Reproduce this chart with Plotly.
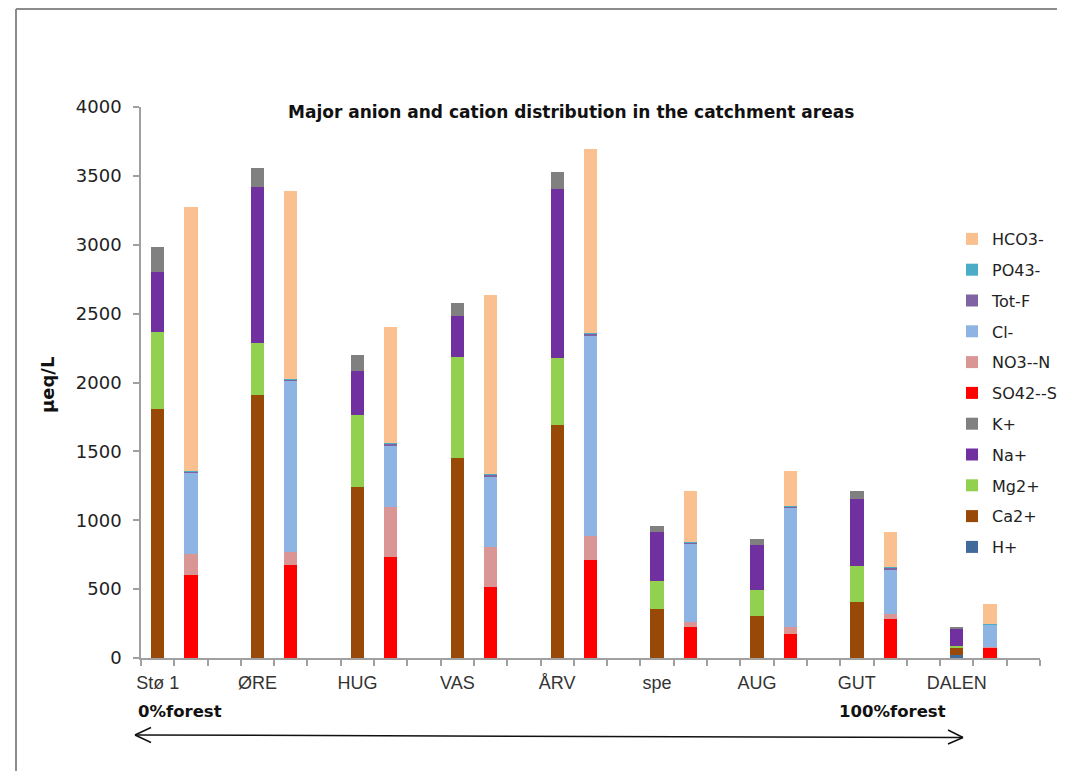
import plotly.graph_objects as go

sites = ["Stø 1", "ØRE", "HUG", "VAS", "ÅRV", "spe", "AUG", "GUT", "DALEN"]

# cations (µeq/L)
H = [0.5, 0.3, 0.4, 0.3, 0.3, 1, 1, 1, 22]
Ca = [1805, 1907, 1239, 1451, 1690, 356, 305, 409, 48]
Mg = [563, 377, 522, 731, 488, 203, 188, 256, 15]
Na = [436, 1135, 324, 302, 1227, 355, 325, 489, 128]
K = [176, 140, 114, 90, 123, 44, 43, 58, 12]
# anions (µeq/L)
SO4 = [603, 672, 731, 515, 713, 223, 172, 285, 73]
NO3 = [149, 100, 365, 291, 170, 38, 53, 32, 7]
Cl = [591, 1238, 450, 515, 1457, 571, 866, 329, 162]
TotF = [10, 15, 14, 9, 15, 5, 10, 12, 3]
PO4 = [2, 2, 2, 5, 3, 2, 2, 2, 1]
HCO3 = [1920, 1362, 842, 1302, 1338, 375, 251, 256, 144]

cation_x = [3 * i for i in range(len(sites))]
anion_x = [3 * i + 1 for i in range(len(sites))]

series = [
    ("H+", H, cation_x, "#40699C"),
    ("Ca2+", Ca, cation_x, "#984807"),
    ("Mg2+", Mg, cation_x, "#92D050"),
    ("Na+", Na, cation_x, "#7030A0"),
    ("K+", K, cation_x, "#808080"),
    ("SO42--S", SO4, anion_x, "#FF0000"),
    ("NO3--N", NO3, anion_x, "#D99694"),
    ("Cl-", Cl, anion_x, "#8EB4E3"),
    ("Tot-F", TotF, anion_x, "#8064A2"),
    ("PO43-", PO4, anion_x, "#4BACC6"),
    ("HCO3-", HCO3, anion_x, "#FAC090"),
]

fig = go.Figure()
n = len(series)
for i, (name, vals, xs, col) in enumerate(series):
    fig.add_trace(go.Bar(
        x=xs, y=vals, name=name, legendgroup=name, legendrank=n - i,
        width=0.4, marker=dict(color=col, line=dict(width=0)),
    ))

# page has an 8px body margin; figure sized to fill the rest of the window
OFF = 8
W, Hh = 1057, 763
L, R, T, B = 133, 25, 99, 113
PW = W - L - R
PH = Hh - T - B


def px(sx):
    return (sx - OFF - L) / PW


def py(sy):
    return (Hh - B - (sy - OFF)) / PH


fig.update_layout(
    width=W, height=Hh,
    margin=dict(l=L, r=R, t=T, b=B, autoexpand=False),
    barmode="stack",
    plot_bgcolor="white", paper_bgcolor="white",
    font=dict(family="DejaVu Sans", color="#222222"),
    showlegend=True,
    legend=dict(
        x=px(952), y=py(222), xanchor="left", yanchor="top",
        traceorder="grouped", tracegroupgap=7,
        font=dict(family="DejaVu Sans", size=16, color="#222222"),
        bgcolor="rgba(0,0,0,0)", itemwidth=30,
    ),
    xaxis=dict(
        range=[-0.5, 26.5], tickmode="array",
        tickvals=cation_x, ticktext=sites, ticks="",
        ticklabelstandoff=8,
        tickfont=dict(family="Liberation Sans", size=18, color="#333333"),
        showline=True, linecolor="#A0A0A0", linewidth=1.5,
        showgrid=False, zeroline=False,
        minor=dict(tickmode="array", tickvals=[k - 0.5 for k in range(28)],
                   ticks="outside", ticklen=6, tickcolor="#A0A0A0", tickwidth=1.5,
                   showgrid=False),
    ),
    yaxis=dict(
        range=[0, 4000], dtick=500, tick0=0,
        ticks="outside", ticklen=6, tickcolor="#A0A0A0", tickwidth=1.5,
        ticklabelstandoff=8,
        tickfont=dict(family="DejaVu Sans", size=18, color="#222222"),
        showline=True, linecolor="#A0A0A0", linewidth=1.5,
        showgrid=False, zeroline=False,
    ),
)

ann = [
    dict(text="<b>Major anion and cation distribution in the catchment areas</b>",
         x=px(571), y=py(112), xref="paper", yref="paper", showarrow=False,
         xanchor="center", yanchor="middle",
         font=dict(family="DejaVu Sans", size=17, color="#111111")),
    dict(text="<b>µeq/L</b>", x=px(47), y=py(385), xref="paper", yref="paper",
         showarrow=False, textangle=-90, xanchor="center", yanchor="middle",
         font=dict(family="DejaVu Sans", size=18, color="#111111")),
    dict(text="<b>0%forest</b>", x=px(136), y=py(711), xref="paper", yref="paper",
         xanchor="left", yanchor="middle", showarrow=False,
         font=dict(family="DejaVu Sans", size=16.5, color="#111111")),
    dict(text="<b>100%forest</b>", x=px(837), y=py(711), xref="paper", yref="paper",
         xanchor="left", yanchor="middle", showarrow=False,
         font=dict(family="DejaVu Sans", size=16.5, color="#111111")),
]
fig.update_layout(annotations=ann)


def seg(x0, y0, x1, y1, color="#111111", w=1.5):
    return dict(type="line", xref="paper", yref="paper",
                x0=px(x0), y0=py(y0), x1=px(x1), y1=py(y1),
                line=dict(color=color, width=w))


shapes = [
    # arrow line and heads
    seg(135, 735, 963, 737.5),
    seg(135, 735, 151, 727.5),
    seg(135, 735, 151, 742.5),
    seg(963, 737.5, 948, 730),
    seg(963, 737.5, 948, 744),
    # outer chart frame
    seg(16, 9, 1065, 9, "#8C8C8C", 2),
    seg(16, 9, 16, 771, "#8C8C8C", 2),
]
fig.update_layout(shapes=shapes)

fig.write_html("out.html")
